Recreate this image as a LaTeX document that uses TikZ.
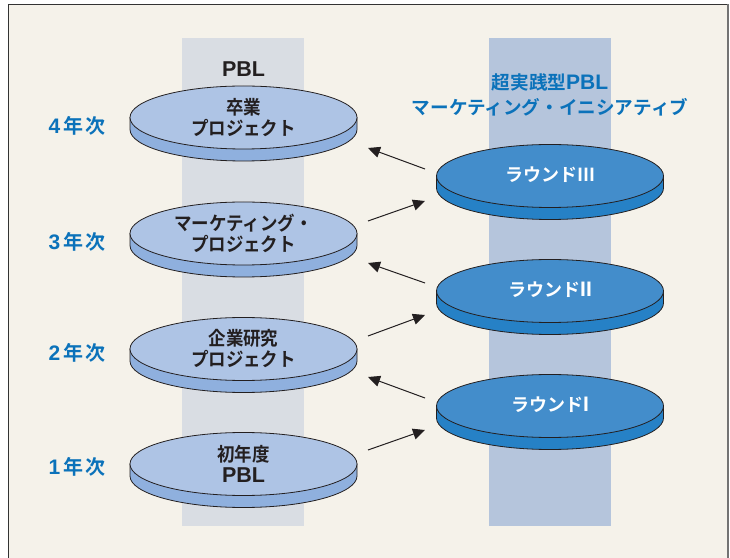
\documentclass[tikz,border=0pt]{standalone}
\usepackage{fontspec}
\setmainfont{Noto Sans CJK JP}[UprightFont={Noto Sans CJK JP Bold}, BoldFont={Noto Sans CJK JP Bold}]
\newfontfamily\jpc{Noto Sans CJK JP Bold}[FakeStretch=0.92]
\newfontfamily\yrf{Noto Sans CJK JP Bold}[LetterSpace=8]
\newfontfamily\lat{Liberation Sans Bold}
\usetikzlibrary{arrows.meta}
\definecolor{bgC}{HTML}{F5F2EA}
\definecolor{bandL}{HTML}{D9DDE3}
\definecolor{bandR}{HTML}{B5C5DC}
\definecolor{lightTop}{HTML}{AEC4E5}
\definecolor{lightSide}{HTML}{8FB0DE}
\definecolor{darkTop}{HTML}{438DCB}
\definecolor{darkSide}{HTML}{2681C6}
\definecolor{blueT}{HTML}{0B72BA}
\definecolor{inkC}{HTML}{231F20}
\def\rx{113.5}
\def\ry{31.5}
\def\th{12}
\newcommand{\mydisk}[7]{% name, position, top, side, text style, y offset, text
\begin{scope}[shift={#2}]
\filldraw[fill=#4, draw=inkC, line width=0.8pt] (-\rx,0) -- (-\rx,-\th) arc[start angle=180,end angle=360,x radius=\rx,y radius=\ry] -- (\rx,0) -- cycle;
\filldraw[fill=#3, draw=inkC, line width=0.8pt] (0,0) ellipse[x radius=\rx,y radius=\ry];
\node[#5] (#1) at (0,#6) {#7};
\end{scope}}
\begin{document}
\begin{tikzpicture}[x=1pt,y=1pt,
  disktext/.style={align=center, text=inkC, font=\jpc\fontsize{19}{21}\selectfont, inner sep=0pt},
  roundtext/.style={text=white, font=\fontsize{18}{21}\selectfont, inner sep=0pt},
  yearlbl/.style={text=blueT, font=\yrf\fontsize{20}{21}\selectfont, inner sep=0pt},
  titleL/.style={text=inkC, font=\lat\fontsize{21.5}{21}\selectfont, inner sep=0pt},
  titleR/.style={text=blueT, align=center, font=\fontsize{18.6}{25.5}\selectfont, inner sep=0pt},
  conn/.style={draw=inkC, line width=1pt, -{Triangle[length=12pt,width=11pt]}}]
\useasboundingbox (0,0) rectangle (730,557);
\fill[white] (0,0) rectangle (730,557);
\fill[bgC] (8.5,-5) rectangle (728,552.5);
\draw[draw=black!80, line width=1.2pt] (8.5,-5) -- (8.5,552.5) -- (727.5,552.5);
\draw[draw=black!55, line width=2pt] (728,552.5) -- (728,-5);
% bands
\fill[bandL] (182,31) rectangle (304,519);
\fill[bandR] (489,31) rectangle (611,519);
% titles
\node[titleL] (tl) at (243.5,487.5) {PBL};
\node[titleR] (tr) at (550,462) {超実践型{\lat\fontsize{21}{21}\selectfont PBL}\\マーケティング・イニシアティブ};
% year labels
\node[yearlbl] (y4) at (77,431) {{\lat\fontsize{21}{21}\selectfont 4}\,年次};
\node[yearlbl] (y3) at (77,315) {{\lat\fontsize{21}{21}\selectfont 3}\,年次};
\node[yearlbl] (y2) at (77,204) {{\lat\fontsize{21}{21}\selectfont 2}\,年次};
\node[yearlbl] (y1) at (77,90) {{\lat\fontsize{21}{21}\selectfont 1}\,年次};
% disks
\mydisk{p4}{(243.5,439.5)}{lightTop}{lightSide}{disktext}{0}{卒業\\プロジェクト}
\mydisk{p3}{(243.5,323.5)}{lightTop}{lightSide}{disktext}{0}{マーケティング・\\プロジェクト}
\mydisk{p2}{(243.5,208)}{lightTop}{lightSide}{disktext}{0}{企業研究\\プロジェクト}
\mydisk{p1}{(243.5,93)}{lightTop}{lightSide}{disktext}{0}{初年度\\{\lat\fontsize{21.5}{21}\selectfont PBL}}
\mydisk{r3}{(550,381)}{darkTop}{darkSide}{roundtext}{1}{ラウンドⅢ}
\mydisk{r2}{(550,266)}{darkTop}{darkSide}{roundtext}{1}{ラウンド{\lat\fontsize{21}{21}\selectfont II}}
\mydisk{r1}{(550,151)}{darkTop}{darkSide}{roundtext}{1}{ラウンド{\lat\fontsize{21}{21}\selectfont I}}
% arrow end points
\coordinate (r3a) at (425,388); \coordinate (p4a) at (368,409);
\coordinate (p3b) at (368,336); \coordinate (r3b) at (425,356);
\coordinate (r2a) at (425,274); \coordinate (p3a) at (368,294);
\coordinate (p2b) at (368,221); \coordinate (r2b) at (425,242);
\coordinate (r1a) at (425,159); \coordinate (p2a) at (368,180);
\coordinate (p1b) at (368,107); \coordinate (r1b) at (425,127);
\draw[conn] (r3a) -- (p4a);
\draw[conn] (p3b) -- (r3b);
\draw[conn] (r2a) -- (p3a);
\draw[conn] (p2b) -- (r2b);
\draw[conn] (r1a) -- (p2a);
\draw[conn] (p1b) -- (r1b);
\end{tikzpicture}
\end{document}
